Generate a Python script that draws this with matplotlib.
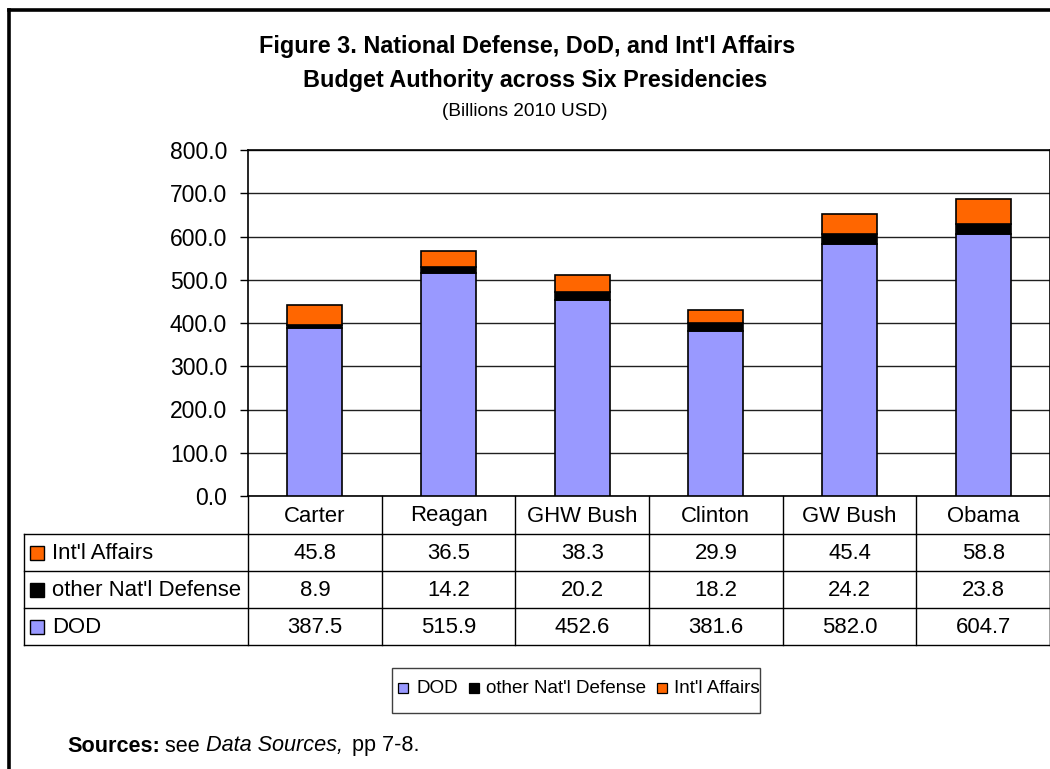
import matplotlib
matplotlib.use("Agg")
import matplotlib.pyplot as plt
from matplotlib.patches import Rectangle
from matplotlib.lines import Line2D

plt.rcParams['font.family'] = ['Liberation Sans', 'DejaVu Sans']

presidencies = ["Carter", "Reagan", "GHW Bush", "Clinton", "GW Bush", "Obama"]
dod = [387.5, 515.9, 452.6, 381.6, 582.0, 604.7]
other_natl_defense = [8.9, 14.2, 20.2, 18.2, 24.2, 23.8]
intl_affairs = [45.8, 36.5, 38.3, 29.9, 45.4, 58.8]
series_names = ["DOD", "other Nat'l Defense", "Int'l Affairs"]
series_colors = ["#9999FF", "#000000", "#FF6600"]
yticks = [0, 100, 200, 300, 400, 500, 600, 700, 800]

W, H = 1050, 769
fig = plt.figure(figsize=(W / 100, H / 100), dpi=100)
fig.patch.set_facecolor("white")

# pixel layout
ax_l, ax_r, ax_t, ax_b = 248, 1050, 150, 496
ax = fig.add_axes([ax_l / W, 1 - ax_b / H, (ax_r - ax_l) / W, (ax_b - ax_t) / H])
x = list(range(len(presidencies)))
bw = 0.41
bottom2 = [a + b for a, b in zip(dod, other_natl_defense)]
ax.bar(x, dod, bw, color=series_colors[0], edgecolor="black", linewidth=1.2, zorder=3)
ax.bar(x, other_natl_defense, bw, bottom=dod, color=series_colors[1], edgecolor="black", linewidth=1.2, zorder=3)
ax.bar(x, intl_affairs, bw, bottom=bottom2, color=series_colors[2], edgecolor="black", linewidth=1.2, zorder=3)
ax.set_xlim(-0.5, len(presidencies) - 0.5)
ax.set_ylim(0, 800)
ax.set_yticks(yticks)
ax.set_yticklabels([f"{v:.1f}" for v in yticks])
ax.set_xticks([])
ax.tick_params(axis="y", length=6, width=1, direction="out", labelsize=16.5, pad=9, colors="black")
ax.yaxis.grid(True, color="#202020", linewidth=1.0, zorder=0)
for s in ax.spines.values():
    s.set_color("black")
    s.set_linewidth(1.2)

# overlay in pixel coordinates
ov = fig.add_axes([0, 0, 1, 1], zorder=5)
ov.set_xlim(0, W)
ov.set_ylim(H, 0)
ov.axis("off")
ov.patch.set_alpha(0)

# outer frame (left and top visible)
ov.add_line(Line2D([8.5, 8.5], [9.5, H + 5], color="black", linewidth=2.6, solid_capstyle="projecting"))
ov.add_line(Line2D([8.5, W + 5], [9.5, 9.5], color="black", linewidth=2.6, solid_capstyle="projecting"))

# titles
ov.text(527, 47, "Figure 3. National Defense, DoD, and Int'l Affairs", ha="center", va="center",
        fontsize=16.8, fontweight="bold")
ov.text(535, 80, "Budget Authority across Six Presidencies", ha="center", va="center",
        fontsize=16.8, fontweight="bold")
ov.text(525, 111, "(Billions 2010 USD)", ha="center", va="center", fontsize=13.7)

# data table
rows_y = [496, 534, 571, 608, 645]
tab_l = 24
n = len(presidencies)
colw = (ax_r - ax_l) / n
col_edges = [ax_l + i * colw for i in range(n + 1)]
lw = 1.0
fs_tab = 15.9
# category row
for xe in col_edges:
    ov.add_line(Line2D([xe, xe], [rows_y[0], rows_y[1]], color="black", linewidth=lw))
for i, p in enumerate(presidencies):
    ov.text(ax_l + (i + 0.5) * colw, (rows_y[0] + rows_y[1]) / 2 + 1, p, ha="center", va="center", fontsize=fs_tab)
# horizontal lines
for yy in rows_y[1:]:
    ov.add_line(Line2D([tab_l, ax_r], [yy, yy], color="black", linewidth=lw))
# vertical lines for data rows
for xe in [tab_l] + col_edges:
    ov.add_line(Line2D([xe, xe], [rows_y[1], rows_y[4]], color="black", linewidth=lw))
ov.add_line(Line2D([ax_r - 0.5, ax_r - 0.5], [rows_y[0], rows_y[4]], color="black", linewidth=lw))

table_rows = [(series_names[2], series_colors[2], intl_affairs),
              (series_names[1], series_colors[1], other_natl_defense),
              (series_names[0], series_colors[0], dod)]
for r, (name, col, vals) in enumerate(table_rows):
    y0, y1 = rows_y[r + 1], rows_y[r + 2]
    yc = (y0 + y1) / 2
    ov.add_patch(Rectangle((30, yc - 7), 14, 14, facecolor=col, edgecolor="black", linewidth=1.0))
    ov.text(52, yc + 1, name, ha="left", va="center", fontsize=fs_tab)
    for i, v in enumerate(vals):
        ov.text(ax_l + (i + 0.5) * colw, yc + 1, f"{v:.1f}", ha="center", va="center", fontsize=fs_tab)

# legend
ov.add_patch(Rectangle((392, 668), 368, 45, facecolor="white", edgecolor="#404040", linewidth=1.0))
leg_items = [(398, 417, 0), (469, 486, 1), (657, 674, 2)]
for sx, tx, k in leg_items:
    ov.add_patch(Rectangle((sx, 683), 10, 10, facecolor=series_colors[k], edgecolor="black", linewidth=0.9))
    ov.text(tx, 688.5, series_names[k], ha="left", va="center", fontsize=13.6)

# sources
fs_src = 15.6
t1 = ov.text(67, 746, "Sources:", ha="left", va="center", fontsize=fs_src, fontweight="bold")
fig.canvas.draw()
r = fig.canvas.get_renderer()
bb = t1.get_window_extent(r)
t2 = ov.text(bb.x1 + 5, 746, "see ", ha="left", va="center", fontsize=fs_src)
bb = t2.get_window_extent(r)
t3 = ov.text(bb.x1, 746, "Data Sources,", ha="left", va="center", fontsize=fs_src, style="italic")
bb = t3.get_window_extent(r)
ov.text(bb.x1 + 10, 746, "pp 7-8.", ha="left", va="center", fontsize=fs_src)

fig.savefig("out.png", dpi=100, facecolor="white")
